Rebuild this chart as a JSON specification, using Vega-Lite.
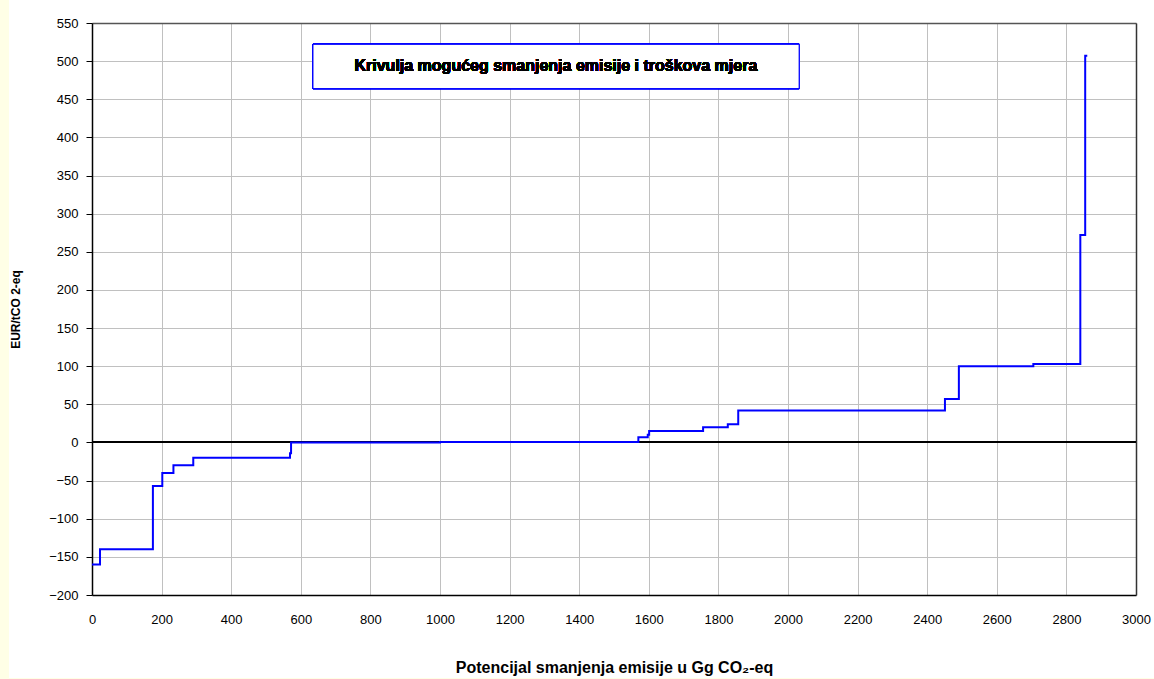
{
  "$schema": "https://vega.github.io/schema/vega-lite/v6.json",
  "autosize": {"type": "none"},
  "width": 1044,
  "height": 572,
  "padding": {"left": 92, "top": 23, "right": 18, "bottom": 84},
  "background": "#FFFFE6",
  "config": {
    "font": "Liberation Sans",
    "view": {"stroke": "white", "strokeWidth": 166, "fill": "white"},
    "axis": {"labelFont": "Liberation Sans", "titleFont": "Liberation Sans", "labelColor": "#000000", "titleColor": "#000000"}
  },
  "data": {
    "values": [
      {"potential": 0, "cost": -160},
      {"potential": 23, "cost": -140},
      {"potential": 175, "cost": -57},
      {"potential": 202, "cost": -40},
      {"potential": 234, "cost": -30},
      {"potential": 291, "cost": -20},
      {"potential": 569, "cost": -14},
      {"potential": 572, "cost": 0},
      {"potential": 1000, "cost": 0.5},
      {"potential": 1570, "cost": 7},
      {"potential": 1597, "cost": 10},
      {"potential": 1601, "cost": 15},
      {"potential": 1756, "cost": 20},
      {"potential": 1827, "cost": 24},
      {"potential": 1857, "cost": 42},
      {"potential": 2451, "cost": 57},
      {"potential": 2491, "cost": 100},
      {"potential": 2705, "cost": 103},
      {"potential": 2840, "cost": 272},
      {"potential": 2854, "cost": 507},
      {"potential": 2860, "cost": 507}
    ]
  },
  "resolve": {"axis": {"x": "independent", "y": "independent"}},
  "layer": [
    {
      "mark": {"type": "rule", "color": "#000000", "strokeWidth": 1.2},
      "encoding": {
        "y": {"datum": 0, "type": "quantitative", "axis": null}
      }
    },
    {
      "mark": {"type": "line", "interpolate": "step-after", "color": "#0000FF", "strokeWidth": 2},
      "encoding": {
        "x": {
          "field": "potential", "type": "quantitative",
          "scale": {"domain": [0, 3000], "nice": false},
          "axis": {
            "orient": "bottom",
            "values": [0, 200, 400, 600, 800, 1000, 1200, 1400, 1600, 1800, 2000, 2200, 2400, 2600, 2800, 3000],
            "title": "Potencijal smanjenja emisije u Gg CO₂-eq",
            "titleFontSize": 16, "titleFontWeight": "bold", "titlePadding": 33,
            "labelFontSize": 13, "labelPadding": 18, "ticks": false,
            "domainColor": "#000000", "domainWidth": 1.5,
            "grid": true, "gridColor": "#C0C0C0", "gridWidth": 1,
            "format": "d", "labelFlush": false
          }
        },
        "y": {
          "field": "cost", "type": "quantitative",
          "scale": {"domain": [-200, 550], "nice": false},
          "axis": {
            "orient": "left",
            "values": [-200, -150, -100, -50, 0, 50, 100, 150, 200, 250, 300, 350, 400, 450, 500, 550],
            "title": "EUR/tCO 2-eq",
            "titleFontSize": 12, "titleFontWeight": "bold", "titlePadding": 26,
            "labelFontSize": 13, "labelPadding": 8, "tickSize": 6, "tickColor": "#000000",
            "domainColor": "#000000", "domainWidth": 1.5,
            "grid": true, "gridColor": "#C0C0C0", "gridWidth": 1,
            "format": "d", "labelFlush": false
          }
        }
      }
    },
    {
      "mark": {"type": "rect", "fill": "white", "stroke": "#0000FF", "strokeWidth": 1},
      "encoding": {
        "x": {"datum": 635, "type": "quantitative", "axis": {"orient": "top", "labels": false, "ticks": false, "title": null, "grid": false, "domainColor": "#555555", "domainWidth": 1.5}},
        "x2": {"datum": 2032},
        "y": {"datum": 464, "type": "quantitative", "axis": {"orient": "right", "labels": false, "ticks": false, "title": null, "grid": false, "domainColor": "#333333", "domainWidth": 1.5}},
        "y2": {"datum": 522}
      }
    },
    {
      "mark": {"type": "text", "text": "Krivulja mogućeg smanjenja emisije i troškova mjera", "font": "Liberation Sans", "fontSize": 16, "fontWeight": "bold", "color": "#000000", "align": "center", "baseline": "middle"},
      "encoding": {
        "x": {"datum": 1333, "type": "quantitative", "axis": null},
        "y": {"datum": 493, "type": "quantitative", "axis": null}
      }
    }
  ]
}
